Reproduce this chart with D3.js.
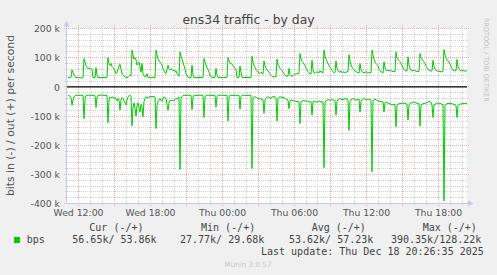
<!DOCTYPE html>
<html>
<head>
<meta charset="utf-8">
<script src="https://cdn.jsdelivr.net/npm/d3@7"></script>
<style>
  html, body { margin: 0; padding: 0; background: #f0f0f0; }
  svg { display: block; }
</style>
</head>
<body>
<svg id="chart" width="497" height="275"></svg>
<script>
// ---------------- DATA (kbit/s, 5-minute samples, 400 points) ----------------
const chartTitle = "ens34 traffic - by day";
const yAxisTitle = "bits in (-) / out (+) per second";
const seriesName = "bps";
const endTimeUTC = [2025, 11, 18, 20, 25, 0]; // last sample (Thu Dec 18 20:25)
const stepMinutes = 5;

// out (+) series, kbit/s
const outValues = [
  32,32,32,33,58,50,40,35,32,32,
  32,31,32,30,32,32,97,85,72,66,
  64,63,64,62,60,32,32,31,66,40,
  32,32,32,31,32,32,32,31,32,32,
  100,80,74,80,70,66,62,55,45,50,
  60,70,77,60,45,42,36,34,32,33,
  32,36,40,38,126,110,95,100,92,75,
  80,85,70,50,80,45,38,36,35,45,
  32,32,32,31,32,32,32,32,126,110,
  97,90,85,80,75,62,55,48,45,60,
  74,62,58,62,60,55,58,52,55,45,
  42,36,120,105,95,85,72,60,45,38,
  32,32,32,32,74,40,32,32,32,31,
  32,32,32,32,32,32,97,85,75,65,
  60,50,40,35,32,32,32,32,63,40,
  32,32,32,32,32,31,32,32,32,32,
  100,90,82,80,78,72,68,64,60,32,
  32,32,71,50,33,32,32,32,32,32,
  32,32,32,32,105,85,72,66,60,55,
  50,47,46,50,48,44,89,72,64,58,
  54,50,44,40,36,34,34,35,34,95,
  75,69,63,60,55,50,45,40,38,36,
  37,63,42,38,36,38,42,45,43,46,
  44,47,114,98,88,84,78,72,65,58,
  52,48,45,44,91,60,48,46,50,52,
  49,48,55,50,52,48,126,105,95,88,
  80,72,68,62,57,52,48,50,89,62,
  55,52,50,55,48,50,52,48,50,52,
  52,110,88,75,68,62,57,54,52,50,
  48,47,80,60,52,50,48,50,52,49,
  47,48,50,48,126,110,95,85,80,76,
  72,62,55,52,50,48,86,65,58,55,
  57,54,56,55,54,52,53,52,120,100,
  95,90,86,80,74,66,60,57,55,54,
  103,75,63,57,54,56,57,55,53,54,
  52,53,114,100,95,90,85,80,72,65,
  60,57,55,54,55,91,70,62,57,55,
  54,52,53,51,52,53,128,110,100,92,
  88,85,78,70,63,58,56,55,55,94,
  70,62,57,55,54,56,55,54,55,54
];

// in (-) series, kbit/s (drawn below zero)
const inValues = [
  29,30,32,38,63,45,35,31,29,29,
  29,30,29,29,29,30,109,40,30,29,
  29,28,29,29,29,29,29,30,71,35,
  29,29,29,28,29,29,29,29,30,29,
  123,45,35,38,34,37,40,35,42,48,
  40,45,80,45,36,40,48,55,62,45,
  35,30,29,33,134,70,55,75,100,65,
  55,72,86,60,70,103,50,40,34,36,
  38,35,33,34,33,34,33,35,143,63,
  50,45,40,46,50,40,34,38,40,60,
  80,55,46,48,45,47,46,44,40,42,
  38,35,283,40,34,30,29,29,30,29,
  29,29,29,30,78,35,29,29,29,30,
  29,29,29,29,29,30,105,35,29,29,
  28,29,29,29,30,29,29,29,70,33,
  29,29,29,28,29,29,29,30,29,29,
  117,35,29,29,29,29,30,29,29,29,
  29,29,76,33,29,29,29,29,29,30,
  29,29,29,29,280,38,34,34,36,38,
  40,42,40,42,44,45,91,45,38,35,
  34,36,38,40,35,34,33,34,38,117,
  40,36,34,35,37,36,38,40,42,44,
  45,75,48,45,46,48,47,50,49,51,
  50,52,126,52,49,47,46,48,50,48,
  49,51,52,50,97,52,49,50,53,51,
  52,50,48,52,51,52,277,52,48,46,
  45,44,46,45,44,46,45,46,97,50,
  44,42,40,42,44,43,42,40,42,41,
  45,149,50,45,42,40,42,44,46,45,
  43,42,86,50,44,42,40,42,44,45,
  43,42,44,45,291,50,44,42,45,46,
  48,50,51,50,52,51,86,55,52,54,
  56,57,58,60,62,61,60,62,137,63,
  60,58,57,58,56,55,57,56,58,60,
  114,62,57,55,54,52,52,54,55,56,
  57,58,135,62,60,58,56,57,55,54,
  52,50,52,53,62,105,62,60,58,57,
  55,56,57,58,60,61,391,63,60,58,
  57,57,56,57,58,59,60,62,64,105,
  64,62,60,58,58,57,56,57,57,57
];

const yTickValues = [200000, 100000, 0, -100000, -200000, -300000, -400000];
const yTickLabels = ["200 k", "100 k", "0", "-100 k", "-200 k", "-300 k", "-400 k"];
const xTickLabelFormat = "%a %H:%M";

const legendHeaders = ["Cur (-/+)", "Min (-/+)", "Avg (-/+)", "Max (-/+)"];
const legendValues = ["56.65k/ 53.86k", "27.77k/ 29.68k", "53.62k/ 57.23k", "390.35k/128.22k"];
const lastUpdateText = "Last update: Thu Dec 18 20:26:35 2025";
const footerText = "Munin 2.0.57";
const watermarkText = "RRDTOOL / TOBI OETIKER";

// ---------------- DRAWING ----------------
const W = 497, H = 275;
const L = 67, R = 467, T = 28.5, B = 203.5;
const svg = d3.select("#chart");

svg.append("rect").attr("width", W).attr("height", H).attr("fill", "#f0f0f0");
svg.append("rect").attr("x", L).attr("y", 28).attr("width", R - L).attr("height", 176).attr("fill", "#ffffff");

const endMs = Date.UTC(...endTimeUTC);
const n = outValues.length;
const startMs = endMs - n * stepMinutes * 60000;
const x = d3.scaleUtc().domain([new Date(startMs), new Date(endMs)]).range([L, R]);
const y = d3.scaleLinear().domain([-400000, 200000]).range([B, T]);
const crisp = v => Math.floor(v) + 0.5;

const times = outValues.map((_, i) => new Date(startMs + (i + 1) * stepMinutes * 60000));

const grid = svg.append("g");
// minor horizontal grid (20k)
const minorY = d3.range(-400000, 200001, 20000).filter(v => v % 100000 !== 0);
const majorY = d3.range(-400000, 200001, 100000);
const minorX = d3.utcHour.every(1).range(new Date(startMs), new Date(endMs)).filter(t => t.getUTCHours() % 3 !== 0);
const majorX = d3.utcHour.every(3).range(new Date(startMs), new Date(endMs));

const minorCol = "#cfcfcf", majorCol = "#f0a8a8";
minorY.forEach(v => {
  const yy = crisp(y(v));
  grid.append("line").attr("x1", L - 2).attr("x2", R + 2).attr("y1", yy).attr("y2", yy)
    .attr("stroke", minorCol).attr("stroke-dasharray", "1,1");
});
minorX.forEach(t => {
  const xx = crisp(x(t));
  grid.append("line").attr("x1", xx).attr("x2", xx).attr("y1", 26).attr("y2", 206)
    .attr("stroke", minorCol).attr("stroke-dasharray", "1,1");
});
majorY.forEach(v => {
  const yy = crisp(y(v));
  grid.append("line").attr("x1", L - 3).attr("x2", R + 3).attr("y1", yy).attr("y2", yy)
    .attr("stroke", majorCol).attr("stroke-dasharray", "1,1");
});
majorX.forEach(t => {
  const xx = crisp(x(t));
  grid.append("line").attr("x1", xx).attr("x2", xx).attr("y1", 25).attr("y2", 207)
    .attr("stroke", majorCol).attr("stroke-dasharray", "1,1");
});

// axes lines with arrows
const axisCol = "#c4c8f0";
svg.append("line").attr("x1", 66.5).attr("x2", 66.5).attr("y1", 204).attr("y2", 24)
  .attr("stroke", axisCol);
svg.append("path").attr("d", "M63.5,26.5 L66.5,21 L69.5,26.5 Z").attr("fill", axisCol);
svg.append("line").attr("x1", 66).attr("x2", 470).attr("y1", 203.5).attr("y2", 203.5)
  .attr("stroke", axisCol);
svg.append("path").attr("d", "M468,200.5 L473.5,203.5 L468,206.5 Z").attr("fill", axisCol);

// zero rule
svg.append("line").attr("x1", L).attr("x2", R).attr("y1", y(0)).attr("y2", y(0))
  .attr("stroke", "#000000").attr("stroke-width", 1.3);

// series
const lineGen = d3.line().x((d, i) => x(times[i])).y(d => y(d));
svg.append("path").datum(outValues.map(v => v * 1000)).attr("d", lineGen)
  .attr("fill", "none").attr("stroke", "#00cc00").attr("stroke-width", 1);
svg.append("path").datum(inValues.map(v => -v * 1000)).attr("d", lineGen)
  .attr("fill", "none").attr("stroke", "#00cc00").attr("stroke-width", 1);

// y axis labels
const yAxis = d3.axisLeft(y).tickValues(yTickValues)
  .tickFormat((d, i) => yTickLabels[i]).tickSize(0).tickPadding(0);
const gy = svg.append("g").attr("transform", "translate(60,0)").call(yAxis);
gy.select(".domain").remove();
gy.selectAll("text").attr("font-family", "DejaVu Sans").attr("font-size", "9.3px")
  .attr("fill", "#555555").attr("dy", "0.35em");

// x axis labels
const xAxis = d3.axisBottom(x).ticks(d3.utcHour.every(6))
  .tickFormat(d3.utcFormat(xTickLabelFormat)).tickSize(0).tickPadding(6);
const gx = svg.append("g").attr("transform", "translate(0,203.5)").call(xAxis);
gx.select(".domain").remove();
gx.selectAll("text").attr("font-family", "DejaVu Sans").attr("font-size", "9.3px")
  .attr("fill", "#555555");

// title
svg.append("text").attr("x", 248.5).attr("y", 23.5).attr("text-anchor", "middle")
  .attr("font-family", "DejaVu Sans").attr("font-size", "12.4px").attr("fill", "#444444")
  .text(chartTitle);

// y axis title
svg.append("text").attr("transform", "translate(13.8,115.5) rotate(-90)")
  .attr("text-anchor", "middle").attr("font-family", "DejaVu Sans").attr("font-size", "10.8px")
  .attr("fill", "#555555").text(yAxisTitle);

// watermark
svg.append("text").attr("transform", "translate(483.5,18) rotate(90)")
  .attr("font-family", "DejaVu Sans").attr("font-size", "6.5px").attr("fill", "#c4c4c4")
  .text(watermarkText);

// legend
const mono = "DejaVu Sans Mono";
const headerX = [89.3, 201, 311.7, 422.7];
const valueX = [72.3, 180, 289, 391];
legendHeaders.forEach((h, i) => {
  svg.append("text").attr("x", headerX[i]).attr("y", 231).attr("font-family", mono)
    .attr("font-size", "10px").attr("fill", "#444444").attr("xml:space", "preserve")
    .style("white-space", "pre").text(h);
});
svg.append("rect").attr("x", 14).attr("y", 237).attr("width", 6).attr("height", 6).attr("fill", "#00cc00");
svg.append("text").attr("x", 26.7).attr("y", 243).attr("font-family", mono)
  .attr("font-size", "10px").attr("fill", "#444444").text(seriesName);
legendValues.forEach((v, i) => {
  svg.append("text").attr("x", valueX[i]).attr("y", 243).attr("font-family", mono)
    .attr("font-size", "10px").attr("fill", "#444444").style("white-space", "pre").text(v);
});
svg.append("text").attr("x", 261).attr("y", 255).attr("font-family", mono)
  .attr("font-size", "10px").attr("fill", "#444444").style("white-space", "pre").text(lastUpdateText);
svg.append("text").attr("x", 248).attr("y", 266.5).attr("text-anchor", "middle")
  .attr("font-family", "DejaVu Sans").attr("font-size", "7.2px").attr("fill", "#c8c8c8")
  .text(footerText);
</script>
</body>
</html>
